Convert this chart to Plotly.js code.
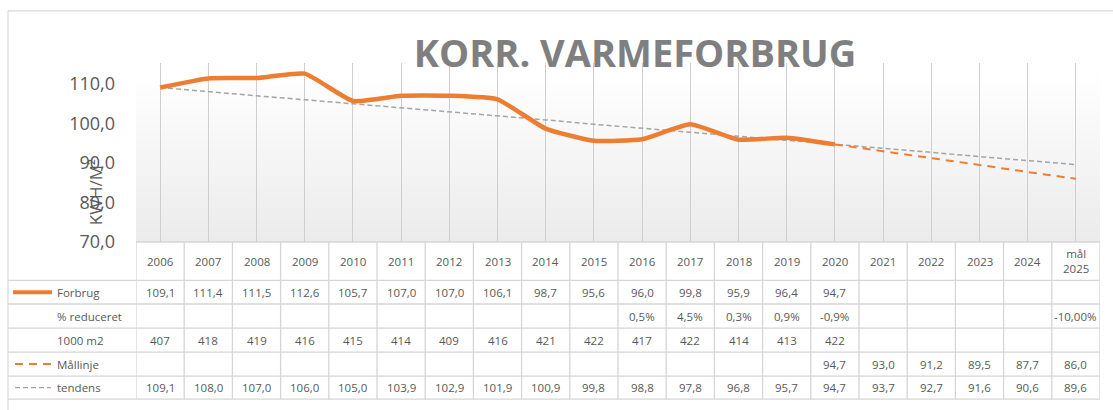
<!DOCTYPE html>
<html>
<head>
<meta charset="utf-8">
<script src="https://cdn.plot.ly/plotly-3.0.1.min.js"></script>
<style>html,body{margin:0;padding:0;background:#fff;}#chart{width:1113px;height:410px;}</style>
</head>
<body>
<div id="chart"></div>
<script>
// ---- data ----
const categories = ["2006","2007","2008","2009","2010","2011","2012","2013","2014","2015","2016","2017","2018","2019","2020","2021","2022","2023","2024","mål 2025"];
const headerLabels = ["2006","2007","2008","2009","2010","2011","2012","2013","2014","2015","2016","2017","2018","2019","2020","2021","2022","2023","2024","mål<br>2025"];
const forbrug = [109.1,111.4,111.5,112.6,105.7,107.0,107.0,106.1,98.7,95.6,96.0,99.8,95.9,96.4,94.7,null,null,null,null,null];
const pctReduceret = ["","","","","","","","","","","0,5%","4,5%","0,3%","0,9%","-0,9%","","","","","-10,00%"];
const areal1000m2 = [407,418,419,416,415,414,409,416,421,422,417,422,414,413,422,null,null,null,null,null];
const maallinje = [null,null,null,null,null,null,null,null,null,null,null,null,null,null,94.7,93.0,91.2,89.5,87.7,86.0];
const tendens = [109.1,108.0,107.0,106.0,105.0,103.9,102.9,101.9,100.9,99.8,98.8,97.8,96.8,95.7,94.7,93.7,92.7,91.6,90.6,89.6];
const rowLabels = ["Forbrug","% reduceret","1000 m2","Mållinje","tendens"];
const yTicks = [70,80,90,100,110];

// ---- geometry (pixels) ----
const L=136, R=1100, T=63, B=241.7;
const px = x => (x-L)/(R-L);
const py = y => (B-y)/(B-T);
const rowEdges = [241.7, 280, 303.6, 327.6, 351.6, 375.6, 398.6];
const gridCol = '#d6d6d6';
const txtCol = '#595959';
const fmt1 = v => (v===null||v===undefined) ? '' : v.toFixed(1).replace('.', ',');
const fmt0 = v => (v===null||v===undefined) ? '' : String(v);

const traces = [
  {x: categories, y: tendens, type:'scatter', mode:'lines', line:{color:'#A5A5A5', width:1.5, dash:'5px,3px'}},
  {x: categories, y: maallinje, type:'scatter', mode:'lines', line:{color:'#ED7D31', width:2, dash:'8px,6px'}},
  {x: categories, y: forbrug, type:'scatter', mode:'lines', line:{color:'#ED7D31', width:4.5, shape:'spline', smoothing:0.45}}
];

const shapes = [];
// outer chart border
shapes.push({type:'line', xref:'paper', yref:'paper', x0:px(8), x1:px(1200), y0:py(11), y1:py(11), line:{color:'#d9d9d9', width:1.2}});
shapes.push({type:'line', xref:'paper', yref:'paper', x0:px(8), x1:px(8), y0:py(11), y1:py(420), line:{color:'#d9d9d9', width:1.2}});
// table horizontal lines
rowEdges.forEach((ry, i) => {
  shapes.push({type:'line', xref:'paper', yref:'paper', x0:(i===0?0:px(8)), x1:1, y0:py(ry), y1:py(ry), line:{color:gridCol, width:1.3}});
});
// table vertical lines
for (let i=0;i<=categories.length;i++){
  shapes.push({type:'line', xref:'x', yref:'paper', x0:i-0.5, x1:i-0.5, y0:py(rowEdges[0]), y1:py(rowEdges[6]), line:{color:gridCol, width:1.3}});
}
// legend keys
const rc = k => (rowEdges[k+1]+rowEdges[k+2])/2;
shapes.push({type:'line', xref:'paper', yref:'paper', x0:px(13), x1:px(52), y0:py(rc(0)), y1:py(rc(0)), line:{color:'#ED7D31', width:4}});
shapes.push({type:'line', xref:'paper', yref:'paper', x0:px(15), x1:px(52), y0:py(rc(3)), y1:py(rc(3)), line:{color:'#ED7D31', width:2, dash:'8px,6px'}});
shapes.push({type:'line', xref:'paper', yref:'paper', x0:px(15), x1:px(51), y0:py(rc(4)), y1:py(rc(4)), line:{color:'#A5A5A5', width:1.2, dash:'5px,3px'}});

const annotations = [];
const tfont = {family:'Open Sans, sans-serif', size:11.5, color:txtCol};
// header
categories.forEach((c,i) => {
  annotations.push({xref:'x', yref:'paper', x:i, y:py((rowEdges[0]+rowEdges[1])/2), text:headerLabels[i], showarrow:false, font:tfont, xanchor:'center', yanchor:'middle'});
});
const rows = [forbrug.map(fmt1), pctReduceret, areal1000m2.map(fmt0), maallinje.map(fmt1), tendens.map(fmt1)];
rows.forEach((vals, k) => {
  const yc = py(rc(k));
  annotations.push({xref:'paper', yref:'paper', x:px(55), y:yc, text:rowLabels[k], showarrow:false, font:tfont, xanchor:'left', yanchor:'middle'});
  vals.forEach((v,i) => {
    if (v==='') return;
    annotations.push({xref:'x', yref:'paper', x:i, y:yc, text:v, showarrow:false, font:tfont, xanchor:'center', yanchor:'middle'});
  });
});
// y axis title
annotations.push({xref:'paper', yref:'paper', x:px(95), y:py(192), text:'KWH/M²', textangle:-90, showarrow:false, font:{family:'Open Sans, sans-serif', size:17, color:txtCol}, xanchor:'center', yanchor:'middle'});

const gradSvg = '<svg xmlns="http://www.w3.org/2000/svg" width="100" height="100" preserveAspectRatio="none"><defs><linearGradient id="g" x1="0" y1="0" x2="0" y2="1"><stop offset="0" stop-color="#ffffff"/><stop offset="0.05" stop-color="#ffffff"/><stop offset="1" stop-color="#ebebeb"/></linearGradient></defs><rect width="100" height="100" fill="url(#g)"/></svg>';

const layout = {
  width:1113, height:410,
  margin:{l:L, r:1113-R, t:T, b:410-B, pad:0},
  paper_bgcolor:'#ffffff', plot_bgcolor:'rgba(0,0,0,0)',
  separators:', ',
  showlegend:false,
  hovermode:false,
  title:{text:'<b>KORR. VARMEFORBRUG</b>', font:{family:'Open Sans, sans-serif', size:38, color:'#7f7f7f'}, xref:'container', yref:'container', x:635/1113, xanchor:'center', y:1-54/410, yanchor:'middle'},
  xaxis:{type:'category', categoryorder:'array', categoryarray:categories, range:[-0.5, categories.length-0.5], showgrid:true, gridcolor:'#cfcfcf', gridwidth:1, showticklabels:false, ticks:'', showline:false, zeroline:false, fixedrange:true},
  yaxis:{range:[70,115.3], tickvals:yTicks, tickformat:'.1f', showgrid:false, zeroline:false, showline:false, ticks:'', ticklabelstandoff:20, tickfont:{family:'Open Sans, sans-serif', size:18, color:txtCol}, fixedrange:true},
  shapes: shapes,
  annotations: annotations,
  images:[{source:'data:image/svg+xml;charset=utf-8,'+encodeURIComponent(gradSvg), xref:'paper', yref:'paper', x:0, y:1, sizex:1, sizey:1, sizing:'stretch', xanchor:'left', yanchor:'top', layer:'below'}]
};

Plotly.newPlot('chart', traces, layout, {staticPlot:true, displayModeBar:false});
</script>
</body>
</html>
